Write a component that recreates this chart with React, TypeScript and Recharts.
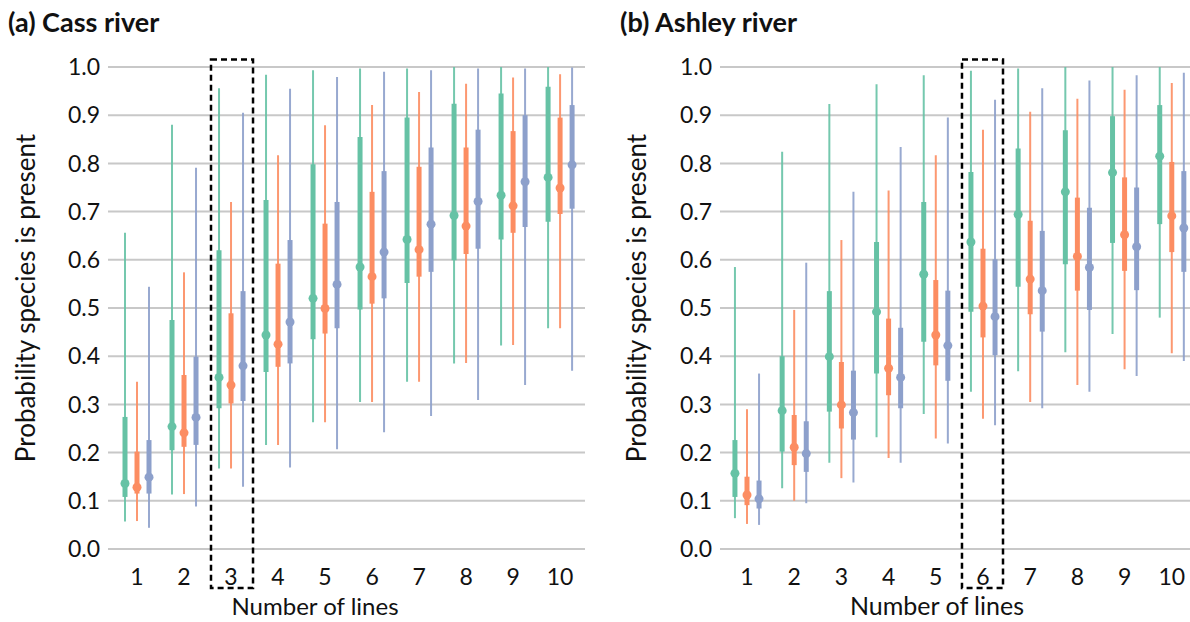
import {
  CartesianGrid,
  ComposedChart,
  ErrorBar,
  Label,
  ReferenceArea,
  Scatter,
  XAxis,
  YAxis,
} from "recharts";

const lines = [1, 2, 3, 4, 5, 6, 7, 8, 9, 10];
const probTicks = [0, 0.1, 0.2, 0.3, 0.4, 0.5, 0.6, 0.7, 0.8, 0.9, 1.0];

// Cass river
const cassGreenMed = [0.136, 0.254, 0.356, 0.444, 0.52, 0.585, 0.642, 0.692, 0.734, 0.771];
const cassGreenLo95 = [0.057, 0.113, 0.167, 0.216, 0.263, 0.305, 0.347, 0.385, 0.422, 0.458];
const cassGreenHi95 = [0.656, 0.88, 0.956, 0.984, 0.993, 0.997, 0.997, 1.0, 1.0, 1.0];
const cassGreenLo50 = [0.108, 0.205, 0.292, 0.367, 0.435, 0.497, 0.552, 0.599, 0.642, 0.679];
const cassGreenHi50 = [0.274, 0.475, 0.62, 0.724, 0.798, 0.855, 0.895, 0.924, 0.945, 0.959];

const cassOrangeMed = [0.128, 0.241, 0.34, 0.425, 0.499, 0.565, 0.621, 0.67, 0.712, 0.749];
const cassOrangeLo95 = [0.058, 0.114, 0.167, 0.216, 0.263, 0.305, 0.347, 0.386, 0.423, 0.458];
const cassOrangeHi95 = [0.347, 0.574, 0.72, 0.817, 0.879, 0.921, 0.948, 0.965, 0.978, 0.985];
const cassOrangeLo50 = [0.115, 0.212, 0.302, 0.378, 0.447, 0.509, 0.565, 0.612, 0.656, 0.695];
const cassOrangeHi50 = [0.202, 0.361, 0.489, 0.592, 0.675, 0.741, 0.793, 0.833, 0.867, 0.895];

const cassBlueMed = [0.149, 0.273, 0.38, 0.471, 0.549, 0.616, 0.674, 0.721, 0.762, 0.797];
const cassBlueLo95 = [0.044, 0.088, 0.129, 0.169, 0.207, 0.242, 0.276, 0.309, 0.34, 0.37];
const cassBlueHi95 = [0.544, 0.791, 0.905, 0.955, 0.979, 0.99, 0.993, 0.997, 0.997, 0.999];
const cassBlueLo50 = [0.115, 0.216, 0.307, 0.385, 0.458, 0.52, 0.575, 0.623, 0.668, 0.706];
const cassBlueHi50 = [0.226, 0.399, 0.535, 0.641, 0.72, 0.784, 0.833, 0.87, 0.9, 0.921];

// Ashley river
const ashGreenMed = [0.157, 0.287, 0.399, 0.492, 0.57, 0.637, 0.694, 0.741, 0.781, 0.815];
const ashGreenLo95 = [0.064, 0.126, 0.179, 0.232, 0.28, 0.326, 0.369, 0.408, 0.446, 0.48];
const ashGreenHi95 = [0.585, 0.824, 0.923, 0.964, 0.983, 0.992, 0.997, 1.0, 1.0, 1.0];
const ashGreenLo50 = [0.108, 0.202, 0.285, 0.364, 0.43, 0.492, 0.544, 0.591, 0.635, 0.674];
const ashGreenHi50 = [0.226, 0.4, 0.535, 0.637, 0.72, 0.782, 0.831, 0.869, 0.898, 0.921];

const ashOrangeMed = [0.112, 0.211, 0.299, 0.375, 0.444, 0.504, 0.56, 0.607, 0.652, 0.691];
const ashOrangeLo95 = [0.052, 0.1, 0.147, 0.189, 0.229, 0.27, 0.305, 0.34, 0.373, 0.406];
const ashOrangeHi95 = [0.29, 0.496, 0.641, 0.744, 0.817, 0.87, 0.907, 0.934, 0.953, 0.967];
const ashOrangeLo50 = [0.091, 0.174, 0.25, 0.319, 0.381, 0.439, 0.487, 0.536, 0.577, 0.616];
const ashOrangeHi50 = [0.15, 0.278, 0.388, 0.478, 0.558, 0.623, 0.681, 0.729, 0.771, 0.803];

const ashBlueMed = [0.104, 0.198, 0.283, 0.356, 0.422, 0.482, 0.536, 0.584, 0.627, 0.666];
const ashBlueLo95 = [0.05, 0.095, 0.138, 0.179, 0.219, 0.257, 0.292, 0.326, 0.359, 0.39];
const ashBlueHi95 = [0.364, 0.594, 0.741, 0.834, 0.895, 0.932, 0.956, 0.972, 0.983, 0.988];
const ashBlueLo50 = [0.084, 0.16, 0.227, 0.292, 0.349, 0.402, 0.451, 0.496, 0.537, 0.575];
const ashBlueHi50 = [0.142, 0.265, 0.37, 0.459, 0.536, 0.601, 0.66, 0.708, 0.75, 0.784];

const GREEN = "#66c2a5";
const ORANGE = "#fc8d62";
const BLUE = "#8da0cb";
const FONT = "Lato, 'Open Sans', sans-serif";

function buildSeries(
  offset: number,
  med: number[],
  lo95: number[],
  hi95: number[],
  lo50: number[],
  hi50: number[],
) {
  return lines.map((n, i) => ({
    x: n + offset,
    y: med[i],
    e95: [med[i] - lo95[i], hi95[i] - med[i]],
    e50: [med[i] - lo50[i], hi50[i] - med[i]],
  }));
}

type SeriesDef = { color: string; data: ReturnType<typeof buildSeries> };

interface PanelProps {
  left: number;
  title: string;
  titleLeft: number;
  series: SeriesDef[];
  domain: [number, number];
  axisWidth: number;
  marginRight: number;
  box: [number, number];
  yLabelX: number;
  xLabelX: number;
  xLabelSize: number;
}

function Panel({
  left,
  title,
  titleLeft,
  series,
  domain,
  axisWidth,
  marginRight,
  box,
  yLabelX,
  xLabelX,
  xLabelSize,
}: PanelProps) {
  return (
    <div style={{ position: "absolute", left, top: 0, width: 595, height: 622 }}>
      <ComposedChart
        width={595}
        height={622}
        margin={{ top: 67, right: marginRight, bottom: 0, left: 0 }}
      >
        <CartesianGrid vertical={false} stroke="#c8c8c8" strokeWidth={2} />
        <XAxis
          type="number"
          dataKey="x"
          domain={domain}
          allowDataOverflow
          ticks={lines}
          height={73}
          tickLine={false}
          axisLine={false}
          tickSize={0}
          tickMargin={20}
          tick={{ fontSize: 23, fill: "#111", fontFamily: FONT }}
        >
          <Label
            content={() => (
              <text
                x={xLabelX}
                y={605}
                textAnchor="middle"
                dominantBaseline="central"
                fontSize={xLabelSize}
                fontFamily={FONT}
                fill="#111"
              >
                Number of lines
              </text>
            )}
          />
        </XAxis>
        <YAxis
          type="number"
          domain={[0, 1]}
          allowDataOverflow
          ticks={probTicks}
          tickFormatter={(v: number) => v.toFixed(1)}
          width={axisWidth}
          tickLine={false}
          axisLine={false}
          tickSize={0}
          tickMargin={8}
          tick={{ fontSize: 23, fill: "#111", fontFamily: FONT }}
        >
          <Label
            content={() => (
              <text
                x={yLabelX}
                y={298}
                transform={`rotate(-90, ${yLabelX}, 298)`}
                textAnchor="middle"
                dominantBaseline="central"
                fontSize={26}
                fontFamily={FONT}
                fill="#111"
              >
                Probability species is present
              </text>
            )}
          />
        </YAxis>
        {series.map((s, i) => (
          <Scatter
            key={i}
            data={s.data}
            dataKey="y"
            isAnimationActive={false}
            shape={(p: any) => <circle cx={p.cx} cy={p.cy} r={4.5} fill={s.color} />}
          >
            <ErrorBar
              dataKey="e95"
              direction="y"
              width={0}
              stroke={s.color}
              strokeWidth={2}
              strokeOpacity={0.9}
              isAnimationActive={false}
            />
            <ErrorBar
              dataKey="e50"
              direction="y"
              width={0}
              stroke={s.color}
              strokeWidth={5}
              isAnimationActive={false}
            />
          </Scatter>
        ))}
        <ReferenceArea
          x1={box[0]}
          x2={box[1]}
          y1={-0.081}
          y2={1.0156}
          ifOverflow="visible"
          fill="none"
          stroke="#000"
          strokeWidth={2.5}
          strokeDasharray="6 4"
        />
      </ComposedChart>
      <div
        style={{
          position: "absolute",
          left: titleLeft,
          top: 6,
          fontFamily: FONT,
          fontWeight: 700,
          fontSize: 27,
          lineHeight: "32px",
          color: "#111",
          whiteSpace: "nowrap",
        }}
      >
        {title}
      </div>
    </div>
  );
}

export default function App() {
  const off = 12 / 47;
  const cassSeries: SeriesDef[] = [
    { color: GREEN, data: buildSeries(-off, cassGreenMed, cassGreenLo95, cassGreenHi95, cassGreenLo50, cassGreenHi50) },
    { color: ORANGE, data: buildSeries(0, cassOrangeMed, cassOrangeLo95, cassOrangeHi95, cassOrangeLo50, cassOrangeHi50) },
    { color: BLUE, data: buildSeries(off, cassBlueMed, cassBlueLo95, cassBlueHi95, cassBlueLo50, cassBlueHi50) },
  ];
  const ashSeries: SeriesDef[] = [
    { color: GREEN, data: buildSeries(-off, ashGreenMed, ashGreenLo95, ashGreenHi95, ashGreenLo50, ashGreenHi50) },
    { color: ORANGE, data: buildSeries(0, ashOrangeMed, ashOrangeLo95, ashOrangeHi95, ashOrangeLo50, ashOrangeHi50) },
    { color: BLUE, data: buildSeries(off, ashBlueMed, ashBlueLo95, ashBlueHi95, ashBlueLo50, ashBlueHi50) },
  ];

  return (
    <div style={{ position: "absolute", left: 0, top: 0, width: 1190, height: 622, background: "#fff" }}>
      <Panel
        left={0}
        title="(a) Cass river"
        titleLeft={8}
        series={cassSeries}
        domain={[0.383, 10.53]}
        axisWidth={108}
        marginRight={10}
        box={[2.574, 3.468]}
        yLabelX={25}
        xLabelX={315}
        xLabelSize={24}
      />
      <Panel
        left={595}
        title="(b) Ashley river"
        titleLeft={25}
        series={ashSeries}
        domain={[0.428, 10.386]}
        axisWidth={125}
        marginRight={0}
        box={[5.555, 6.424]}
        yLabelX={41}
        xLabelX={342}
        xLabelSize={25}
      />
    </div>
  );
}
